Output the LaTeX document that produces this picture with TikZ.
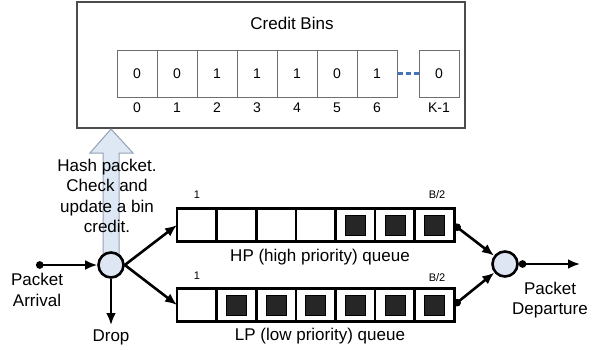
\documentclass[tikz,border=0pt]{standalone}
\usepackage{fontspec}
\setmainfont{Liberation Sans}
\usetikzlibrary{arrows.meta}
\definecolor{binline}{RGB}{110,110,110}
\definecolor{dotblue}{RGB}{70,115,190}
\definecolor{hashfill}{RGB}{222,232,245}
\definecolor{hashline}{RGB}{150,160,178}
\definecolor{nodefill}{RGB}{222,230,244}
\newcommand{\bigfont}{\fontsize{17}{20.5}\selectfont}
\begin{document}
\begin{tikzpicture}[
    x=1pt, y=-1pt,
    bincell/.style={
        draw=binline,
        line width=1pt,
        minimum width=40pt,
        minimum height=47pt,
        font=\fontsize{14}{16}\selectfont
    },
    idx/.style={font=\fontsize{14}{16}\selectfont},
    qcell/.style={
        draw,
        line width=2.6pt,
        outer sep=0pt,
        minimum width=39.6pt,
        minimum height=33pt
    },
    pkt/.style={draw, fill=black!85, minimum size=20pt, inner sep=0pt},
    mux/.style={circle, draw, line width=2.6pt, fill=nodefill, minimum size=25pt, inner sep=0pt},
    lbl/.style={align=center, font=\bigfont},
    small/.style={font=\fontsize{11}{13}\selectfont},
    arrow/.style={-{Latex[length=12pt,width=10pt]}, line width=2.6pt},
    dotarrow/.style={{Circle[length=7.5pt]}-{Latex[length=12pt,width=10pt]}, line width=2.6pt}
]
\useasboundingbox (0,0) rectangle (602,350);

% Credit bins box
\node[draw=black!70, line width=1.4pt, minimum width=388pt, minimum height=126pt] (binbox) at (271,65) {};
\node[lbl] (bintitle) at (292,23) {Credit Bins};
\foreach \v [count=\i from 0] in {0,0,1,1,1,0,1} {
    \node[bincell] (bin\i) at ({137+\i*40},74) {\v};
    \node[idx] at ({137+\i*40},108) {\i};
}
\node[bincell] (binK) at (439,74) {0};
\node[idx] at (439,108) {K-1};
\draw[dotblue, line width=3pt, dash pattern=on 5pt off 3pt] (bin6.east) -- (binK.west);

% Hash arrow (up to the bins)
\draw[hashline, fill=hashfill, line width=1pt]
    (103,255) -- (103,153) -- (90,153) -- (111,129) -- (133,153) -- (119,153) -- (119,255) -- cycle;

% Input node
\node[mux] (inC) at (111,265) {};
\node[lbl] (hash) at (107,196) {Hash packet.\\Check and\\update a bin\\credit.};

% Queues
\foreach \i in {1,...,7} {
    \node[qcell] (hp\i) at ({196.8+(\i-1)*39.6},225) {};
    \node[qcell] (lp\i) at ({196.8+(\i-1)*39.6},305) {};
}
\foreach \i in {5,6,7} \node[pkt] at (hp\i) {};
\foreach \i in {2,...,7} \node[pkt] at (lp\i) {};
\node[small] at (197,195) {1};
\node[small] at (437,195) {B/2};
\node[small] at (197,276) {1};
\node[small] at (437,278) {B/2};
\node[lbl] (hplbl) at (320,257) {HP (high priority) queue};
\node[lbl] (lplbl) at (320,336) {LP (low priority) queue};

% Output node
\node[mux] (outC) at (505,264) {};

% === ARROWS ===
\coordinate (arr) at (36,265);
\coordinate (drop) at (111,325);
\coordinate (dep) at (580,264);
\draw[dotarrow] (arr) -- (inC);
\draw[arrow] (inC.south) -- (drop);
\draw[arrow] (inC.east) -- (hp1.west);
\draw[arrow] (inC.east) -- (lp1.west);
\draw[dotarrow] (hp7.east) -- (outC);
\draw[dotarrow] (lp7.east) -- (outC);
\draw[dotarrow] (outC.east) -- (dep);

% Texts
\node[lbl] (arrlbl) at (37,290) {Packet\\Arrival};
\node[lbl] (droplbl) at (111,337) {Drop};
\node[lbl] (deplbl) at (550,300) {Packet\\Departure};

\end{tikzpicture}
\end{document}
